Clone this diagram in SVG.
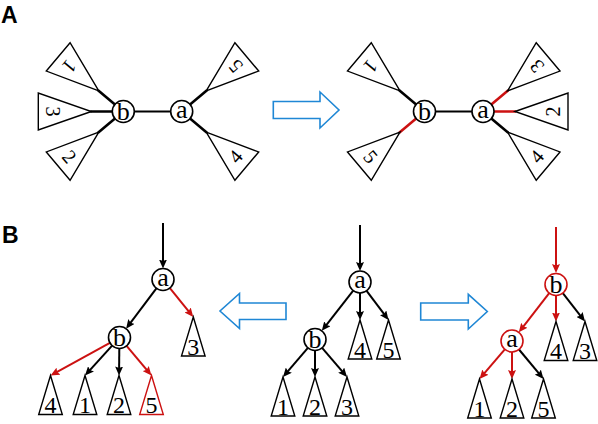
<svg xmlns="http://www.w3.org/2000/svg" xmlns:xlink="http://www.w3.org/1999/xlink" width="598" height="424" viewBox="0 0 598 424">
<style>
.bg{fill:#ffffff}
.lbl{font-family:"Liberation Sans",Arial,sans-serif;font-weight:bold;font-size:23px;fill:#000}
.tri{fill:#fff;stroke:#000;stroke-width:1.4;stroke-linejoin:miter}
.tri.red{stroke:#cc1111}
.dA{font-family:"Liberation Serif","Times New Roman",serif;font-size:20px;text-anchor:middle;fill:#000}
.dB{font-family:"Liberation Serif","Times New Roman",serif;font-size:24px;text-anchor:middle;fill:#000}
.nd{fill:#fff;stroke:#000;stroke-width:1.6}
.nd.red{stroke:#cc1111}
.nl{font-family:"Liberation Serif","Times New Roman",serif;font-size:26px;text-anchor:middle;fill:#000}
.stem{stroke:#000;stroke-width:2.6;fill:none}
.stem.red{stroke:#cc1111}
.edge{stroke:#000;stroke-width:1.8;fill:none}
.arr{stroke:#000;stroke-width:2;fill:none;marker-end:url(#hk)}
.arr.red{stroke:#cc1111;marker-end:url(#hr)}
.big{fill:#fff;stroke:#1f87d5;stroke-width:1.6;stroke-linejoin:miter}
</style>
<defs>
<polygon id="triA" points="32,0 85,-18.5 85,18.5"/>
<marker id="hk" markerUnits="userSpaceOnUse" markerWidth="10" markerHeight="8" refX="3" refY="4" orient="auto">
<path d="M0,0 L9,4 L0,8 L1.5,4 z" fill="#000"/>
</marker>
<marker id="hr" markerUnits="userSpaceOnUse" markerWidth="10" markerHeight="8" refX="3" refY="4" orient="auto">
<path d="M0,0 L9,4 L0,8 L1.5,4 z" fill="#cc1111"/>
</marker>
</defs>
<rect class="bg" x="0" y="0" width="598" height="424"/>
<text class="lbl" x="1" y="23">A</text>
<text class="lbl" x="2" y="243">B</text>

<!-- Part A connectors -->
<g id="connectors-A">
<line class="edge" x1="123.3" y1="111.5" x2="181.7" y2="111.5"/>
<line class="stem" x1="0" y1="0" x2="33" y2="0" transform="translate(123.3,111.5) rotate(220)"/>
<line class="stem" x1="0" y1="0" x2="33" y2="0" transform="translate(123.3,111.5) rotate(180)"/>
<line class="stem" x1="0" y1="0" x2="33" y2="0" transform="translate(123.3,111.5) rotate(140)"/>
<line class="stem" x1="0" y1="0" x2="33" y2="0" transform="translate(181.7,111.5) rotate(-40)"/>
<line class="stem" x1="0" y1="0" x2="33" y2="0" transform="translate(181.7,111.5) rotate(40)"/>
<line class="edge" x1="424.5" y1="111.5" x2="483" y2="111.5"/>
<line class="stem" x1="0" y1="0" x2="33" y2="0" transform="translate(424.5,111.5) rotate(220)"/>
<line class="stem red" x1="0" y1="0" x2="33" y2="0" transform="translate(424.5,111.5) rotate(140)"/>
<line class="stem red" x1="0" y1="0" x2="33" y2="0" transform="translate(483,111.5) rotate(-40)"/>
<line class="stem red" x1="0" y1="0" x2="33" y2="0" transform="translate(483,111.5) rotate(0)"/>
<line class="stem" x1="0" y1="0" x2="33" y2="0" transform="translate(483,111.5) rotate(40)"/>
</g>

<!-- Part A left -->
<g id="AL-t1" transform="translate(123.3,111.5) rotate(220)"><use xlink:href="#triA" class="tri"/><text class="dA" transform="translate(70,0) rotate(-90)" y="7">1</text></g>
<g id="AL-t3" transform="translate(123.3,111.5) rotate(180)"><use xlink:href="#triA" class="tri"/><text class="dA" transform="translate(70,0) rotate(-90)" y="7">3</text></g>
<g id="AL-t2" transform="translate(123.3,111.5) rotate(140)"><use xlink:href="#triA" class="tri"/><text class="dA" transform="translate(70,0) rotate(-90)" y="7">2</text></g>
<g id="AL-t5" transform="translate(181.7,111.5) rotate(-40)"><use xlink:href="#triA" class="tri"/><text class="dA" transform="translate(70,0) rotate(-90)" y="7">5</text></g>
<g id="AL-t4" transform="translate(181.7,111.5) rotate(40)"><use xlink:href="#triA" class="tri"/><text class="dA" transform="translate(70,0) rotate(-90)" y="7">4</text></g>
<g id="AL-b"><circle class="nd" cx="123.3" cy="111.5" r="11"/><text class="nl" x="123.3" y="120">b</text></g>
<g id="AL-a"><circle class="nd" cx="181.7" cy="111.5" r="11"/><text class="nl" x="181.7" y="117.5">a</text></g>

<g id="A-arrow"><polygon class="big" points="273.3,101.5 320,101.5 320,92 339,110 320,128 320,118.5 273.3,118.5"/></g>

<!-- Part A right -->
<g id="AR-t1" transform="translate(424.5,111.5) rotate(220)"><use xlink:href="#triA" class="tri"/><text class="dA" transform="translate(70,0) rotate(-90)" y="7">1</text></g>
<g id="AR-t5" transform="translate(424.5,111.5) rotate(140)"><use xlink:href="#triA" class="tri"/><text class="dA" transform="translate(70,0) rotate(-90)" y="7">5</text></g>
<g id="AR-t3" transform="translate(483,111.5) rotate(-40)"><use xlink:href="#triA" class="tri"/><text class="dA" transform="translate(70,0) rotate(-90)" y="7">3</text></g>
<g id="AR-t2" transform="translate(483,111.5) rotate(0)"><use xlink:href="#triA" class="tri"/><text class="dA" transform="translate(70,0) rotate(-90)" y="7">2</text></g>
<g id="AR-t4" transform="translate(483,111.5) rotate(40)"><use xlink:href="#triA" class="tri"/><text class="dA" transform="translate(70,0) rotate(-90)" y="7">4</text></g>
<g id="AR-b"><circle class="nd" cx="424.5" cy="111.5" r="11"/><text class="nl" x="424.5" y="120">b</text></g>
<g id="AR-a"><circle class="nd" cx="483" cy="111.5" r="11"/><text class="nl" x="483" y="117.5">a</text></g>

<!-- Part B connectors -->
<g id="connectors-B">
<line class="arr" x1="163" y1="223" x2="163" y2="262.5"/>
<line class="arr" x1="156.4" y1="288.3" x2="129.7" y2="323.9"/>
<line class="arr red" x1="169.9" y1="288.1" x2="189.5" y2="312.3"/>
<line class="arr red" x1="109.9" y1="342.8" x2="55.8" y2="372.6"/>
<line class="arr" x1="112.1" y1="345.7" x2="89" y2="371.1"/>
<line class="arr" x1="119.3" y1="348.5" x2="119.1" y2="369.5"/>
<line class="arr red" x1="126.6" y1="345.9" x2="147.6" y2="370.9"/>

<line class="arr" x1="360" y1="225" x2="360" y2="265"/>
<line class="arr" x1="353.2" y1="290.7" x2="325.5" y2="326.1"/>
<line class="arr" x1="360" y1="293" x2="360" y2="314"/>
<line class="arr" x1="366.6" y1="290.8" x2="384.9" y2="315.2"/>
<line class="arr" x1="307.9" y1="347.9" x2="286.9" y2="372.4"/>
<line class="arr" x1="315" y1="350.5" x2="315" y2="371"/>
<line class="arr" x1="322.1" y1="347.9" x2="343.1" y2="372.4"/>

<line class="arr red" x1="556" y1="227" x2="556" y2="267"/>
<line class="arr red" x1="549.2" y1="293.2" x2="522.5" y2="327.6"/>
<line class="arr red" x1="556" y1="295.5" x2="556" y2="315.5"/>
<line class="arr" x1="562.8" y1="293.2" x2="581.3" y2="316.8"/>
<line class="arr red" x1="504.8" y1="349.4" x2="483.4" y2="374.4"/>
<line class="arr red" x1="512" y1="352" x2="512" y2="373"/>
<line class="arr" x1="519" y1="349.5" x2="539.7" y2="374.4"/>
</g>

<!-- Part B left tree -->
<g id="BL-a"><circle class="nd" cx="163" cy="279.5" r="11"/><text class="nl" x="163" y="285.8">a</text></g>
<g id="BL-b"><circle class="nd" cx="119.5" cy="337.5" r="11"/><text class="nl" x="119.5" y="346">b</text></g>
<g id="BL-t3"><polygon class="tri" points="193.3,317 181.5,356 205.1,356"/><text class="dB" x="193.3" y="354.5">3</text></g>
<g id="BL-t4"><polygon class="tri" points="50.5,375.5 38.7,414.5 62.3,414.5"/><text class="dB" x="50.5" y="413">4</text></g>
<g id="BL-t1"><polygon class="tri" points="85,375.5 73.2,414.5 96.8,414.5"/><text class="dB" x="85" y="413">1</text></g>
<g id="BL-t2"><polygon class="tri" points="119,375.5 107.2,414.5 130.8,414.5"/><text class="dB" x="119" y="413">2</text></g>
<g id="BL-t5"><polygon class="tri red" points="151.5,375.5 139.7,414.5 163.3,414.5"/><text class="dB" x="151.5" y="413">5</text></g>

<g id="B-arrow-left"><polygon class="big" points="286,303 239.5,303 239.5,293.5 220,311 239.5,328.5 239.5,319.5 286,319.5"/></g>

<!-- Part B middle tree -->
<g id="BM-a"><circle class="nd" cx="360" cy="282" r="11"/><text class="nl" x="360" y="288.3">a</text></g>
<g id="BM-b"><circle class="nd" cx="315" cy="339.5" r="11"/><text class="nl" x="315" y="348">b</text></g>
<g id="BM-t4"><polygon class="tri" points="360,320 348.2,359 371.8,359"/><text class="dB" x="360" y="357.5">4</text></g>
<g id="BM-t5"><polygon class="tri" points="388.5,320 376.7,359 400.3,359"/><text class="dB" x="388.5" y="357.5">5</text></g>
<g id="BM-t1"><polygon class="tri" points="283,377 271.2,416 294.8,416"/><text class="dB" x="283" y="414.5">1</text></g>
<g id="BM-t2"><polygon class="tri" points="315,377 303.2,416 326.8,416"/><text class="dB" x="315" y="414.5">2</text></g>
<g id="BM-t3"><polygon class="tri" points="347,377 335.2,416 358.8,416"/><text class="dB" x="347" y="414.5">3</text></g>

<g id="B-arrow-right"><polygon class="big" points="420.7,303 468.3,303 468.3,294.3 487.3,311.5 468.3,329 468.3,320 420.7,320"/></g>

<!-- Part B right tree -->
<g id="BR-b"><circle class="nd red" cx="556" cy="284.5" r="11"/><text class="nl" x="556" y="293">b</text></g>
<g id="BR-a"><circle class="nd red" cx="512" cy="341" r="11"/><text class="nl" x="512" y="347.3">a</text></g>
<g id="BR-t4"><polygon class="tri" points="556,321.5 544.2,360.5 567.8,360.5"/><text class="dB" x="556" y="359">4</text></g>
<g id="BR-t3"><polygon class="tri" points="585,321.5 573.2,360.5 596.8,360.5"/><text class="dB" x="585" y="359">3</text></g>
<g id="BR-t1"><polygon class="tri" points="479.5,379 467.7,418 491.3,418"/><text class="dB" x="479.5" y="416.5">1</text></g>
<g id="BR-t2"><polygon class="tri" points="512,379 500.2,418 523.8,418"/><text class="dB" x="512" y="416.5">2</text></g>
<g id="BR-t5"><polygon class="tri" points="543.5,379 531.7,418 555.3,418"/><text class="dB" x="543.5" y="416.5">5</text></g>
</svg>
